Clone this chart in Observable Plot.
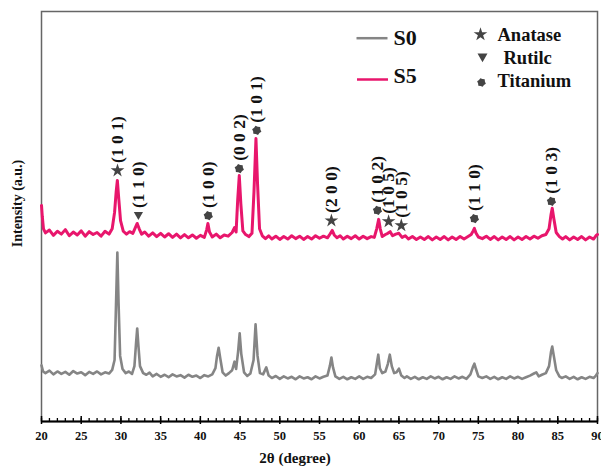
<!DOCTYPE html>
<html><head><meta charset="utf-8">
<script src="https://cdn.jsdelivr.net/npm/d3@7"></script>
<script src="https://cdn.jsdelivr.net/npm/@observablehq/plot@0.6"></script>
<style>html,body{margin:0;padding:0;background:#fff}</style>
</head><body><div id="chart"></div>
<script>
// XRD pattern S0 (2θ, intensity a.u.)
const s0Pattern = [[20.0,137],[20.2,122],[20.5,118],[21.0,124],[21.5,115],[22.0,122],[22.5,116],[23.0,121],[23.5,114],[24.0,123],[24.5,117],[25.0,120],[25.5,113],[26.0,121],[26.5,116],[27.0,122],[27.5,115],[28.0,120],[28.5,117],[28.9,126],[29.2,150],[29.4,300],[29.55,412],[29.7,290],[29.9,160],[30.2,128],[30.6,118],[31.0,122],[31.4,116],[31.7,135],[31.9,190],[32.05,227],[32.2,185],[32.4,135],[32.8,118],[33.2,114],[33.6,119],[34.0,110],[34.5,116],[35.0,109],[35.5,114],[36.0,108],[36.5,115],[37.0,110],[37.5,113],[38.0,107],[38.5,114],[39.0,109],[39.5,112],[40.0,106],[40.5,113],[41.0,110],[41.5,115],[41.9,130],[42.1,160],[42.3,180],[42.5,155],[42.8,120],[43.2,112],[43.6,118],[44.0,125],[44.3,146],[44.5,128],[44.75,170],[44.95,215],[45.15,165],[45.5,120],[45.9,111],[46.3,117],[46.7,150],[46.95,237],[47.2,160],[47.5,118],[47.9,115],[48.3,132],[48.6,112],[49.0,106],[49.5,111],[50.0,104],[50.5,110],[51.0,105],[51.5,109],[52.0,103],[52.5,110],[53.0,105],[53.5,108],[54.0,103],[54.5,110],[55.0,105],[55.5,109],[56.0,112],[56.3,135],[56.5,156],[56.7,132],[57.0,110],[57.5,104],[58.0,109],[58.5,103],[59.0,108],[59.5,104],[60.0,110],[60.5,104],[61.0,109],[61.5,106],[62.0,115],[62.25,145],[62.4,163],[62.6,130],[62.9,118],[63.3,122],[63.6,140],[63.85,163],[64.1,135],[64.4,118],[64.7,120],[65.0,129],[65.3,112],[65.7,106],[66.0,110],[66.5,104],[67.0,109],[67.5,103],[68.0,108],[68.5,104],[69.0,110],[69.5,105],[70.0,109],[70.5,103],[71.0,108],[71.5,104],[72.0,110],[72.5,105],[73.0,109],[73.5,104],[74.0,115],[74.3,132],[74.5,141],[74.7,128],[75.0,110],[75.5,106],[76.0,110],[76.5,104],[77.0,109],[77.5,103],[78.0,108],[78.5,104],[79.0,110],[79.5,105],[80.0,109],[80.5,104],[81.0,108],[81.5,112],[82.0,117],[82.3,120],[82.6,110],[83.0,114],[83.5,118],[83.9,135],[84.15,170],[84.3,183],[84.5,160],[84.8,125],[85.2,110],[85.5,106],[86.0,110],[86.5,104],[87.0,109],[87.5,103],[88.0,108],[88.5,104],[89.0,109],[89.5,106],[89.8,112],[90.0,118]];

// XRD pattern S5 (2θ, intensity a.u., stacked)
const s5Pattern = [[20.0,527],[20.1,500],[20.25,470],[20.5,460],[21.0,467],[21.5,454],[22.0,464],[22.5,457],[23.0,468],[23.5,453],[24.0,462],[24.5,455],[25.0,465],[25.5,452],[26.0,463],[26.5,456],[27.0,461],[27.5,452],[28.0,464],[28.5,457],[28.9,470],[29.2,510],[29.4,560],[29.55,588],[29.7,550],[29.95,490],[30.3,464],[30.7,457],[31.1,463],[31.5,459],[31.8,472],[32.05,483],[32.3,470],[32.6,457],[33.0,462],[33.5,452],[34.0,460],[34.5,451],[35.0,459],[35.5,450],[36.0,458],[36.5,449],[37.0,457],[37.5,448],[38.0,456],[38.5,448],[39.0,455],[39.5,447],[40.0,454],[40.5,449],[40.8,468],[40.95,483],[41.15,462],[41.5,450],[42.0,457],[42.5,448],[43.0,455],[43.5,452],[44.0,461],[44.3,473],[44.5,462],[44.7,540],[44.9,600],[45.1,530],[45.35,465],[45.7,456],[46.1,451],[46.5,459],[46.75,560],[47.0,690],[47.2,580],[47.45,470],[47.8,453],[48.2,446],[48.6,453],[49.0,445],[49.5,452],[50.0,444],[50.5,451],[51.0,445],[51.5,453],[52.0,446],[52.5,452],[53.0,444],[53.5,451],[54.0,445],[54.5,453],[55.0,447],[55.5,452],[56.0,448],[56.35,458],[56.6,466],[56.85,455],[57.2,448],[57.6,453],[58.0,445],[58.5,452],[59.0,446],[59.5,453],[60.0,445],[60.5,452],[61.0,446],[61.5,451],[61.9,449],[62.2,470],[62.45,493],[62.65,470],[62.9,451],[63.3,456],[63.6,459],[63.9,463],[64.2,453],[64.6,457],[65.0,459],[65.4,449],[65.8,453],[66.2,445],[66.7,451],[67.2,444],[67.7,450],[68.2,444],[68.7,451],[69.2,443],[69.7,450],[70.2,444],[70.7,451],[71.2,443],[71.7,450],[72.2,444],[72.7,451],[73.2,445],[73.7,451],[74.1,456],[74.35,465],[74.5,471],[74.7,460],[75.0,450],[75.5,446],[76.0,452],[76.5,444],[77.0,451],[77.5,443],[78.0,450],[78.5,444],[79.0,451],[79.5,443],[80.0,450],[80.5,444],[81.0,451],[81.5,445],[82.0,452],[82.5,447],[83.0,453],[83.5,456],[83.9,470],[84.15,505],[84.3,520],[84.5,495],[84.8,461],[85.2,451],[85.6,445],[86.0,451],[86.5,443],[87.0,450],[87.5,444],[88.0,451],[88.5,443],[89.0,450],[89.5,445],[89.8,453],[90.0,456]];

// Peak annotations
const peakAngle = [29.57, 32.2, 41.0, 44.9, 47.1, 56.5, 62.3, 63.7, 65.3, 74.5, 84.2];
const peakLevel = [612, 502, 502, 617, 710, 490, 515, 488, 478, 495, 537];
const peakPhase = ["Anatase","Rutilc","Titanium","Titanium","Titanium","Anatase","Titanium","Anatase","Anatase","Titanium","Titanium"];
const peakHkl = ["(1 0 1)","(1 1 0)","(1 0 0)","(0 0 2)","(1 0 1)","(2 0 0)","(1 0 2)","(1 0 5)","(1 0 5)","(1 1 0)","(1 0 3)"];

// Legend / axis text
const seriesNames = ["S0", "S5"];
const phaseNames = ["Anatase", "Rutilc", "Titanium"];
const majorTicks = [20,25,30,35,40,45,50,55,60,65,70,75,80,85,90];
const minorTicks = d3.range(20, 91, 1);
const xTitle = "2θ (degree)";
const yTitle = "Intensity (a.u.)";

const peaks = peakAngle.map((a, i) => ({angle: a, level: peakLevel[i], phase: peakPhase[i], hkl: peakHkl[i]}));

const FONT = "Liberation Serif, Times New Roman, serif";
const SYM = "#444";
const GRAY = "#858585";
const PINK = "#e8166c";

const triDown = {draw(ctx, size) { const r = Math.sqrt(size / Math.PI);
  ctx.moveTo(-r, -0.8 * r); ctx.lineTo(r, -0.8 * r); ctx.lineTo(0, 0.95 * r); ctx.closePath(); }};
const cog = {draw(ctx, size) { const r = Math.sqrt(size / Math.PI);
  for (let i = 0; i < 12; i++) { const a = Math.PI * i / 6 + Math.PI / 12; const rr = i % 2 ? r * 0.78 : r;
    const px = rr * Math.cos(a), py = rr * Math.sin(a); if (i) ctx.lineTo(px, py); else ctx.moveTo(px, py); }
  ctx.closePath(); }};
const dash = {draw(ctx) { ctx.moveTo(-15.5, 0); ctx.lineTo(15.5, 0); }};
const phaseSymbol = {Anatase: "star", Rutilc: triDown, Titanium: cog};
const phaseR = {Anatase: 4.3, Rutilc: 4.6, Titanium: 4.8};

const marks = [
  Plot.frame({stroke: "#666", strokeWidth: 1.5}),
  Plot.ruleY([0], {stroke: "#000", strokeWidth: 2}),
  Plot.tickX(minorTicks, {x: d => d, insetTop: 407, stroke: "#000", strokeWidth: 1.3}),
  Plot.tickX(majorTicks, {x: d => d, insetTop: 405, insetBottom: -3, stroke: "#000", strokeWidth: 1.5}),
  Plot.axisX(majorTicks, {tickSize: 0, tickPadding: 10, fontSize: 12.5, fontWeight: "bold", fill: "#111", label: null}),
  Plot.line(s0Pattern, {x: d => d[0], y: d => d[1], stroke: GRAY, strokeWidth: 2.6, strokeLinejoin: "round"}),
  Plot.line(s5Pattern, {x: d => d[0], y: d => d[1], stroke: PINK, strokeWidth: 3, strokeLinejoin: "round"}),
  ...phaseNames.map(p => Plot.dot(peaks.filter(d => d.phase === p), {x: "angle", y: "level", symbol: phaseSymbol[p], r: phaseR[p], fill: SYM, stroke: "none"})),
  Plot.text(peaks, {x: "angle", y: "level", text: "hkl", rotate: -90, dy: -31, textAnchor: "middle", lineAnchor: "middle", fontSize: 17.5, fontWeight: "bold", fill: "#111"}),
  // legend
  Plot.dot([seriesNames[0]], {frameAnchor: "top-left", dx: 330.5, dy: 26.7, symbol: dash, stroke: GRAY, strokeWidth: 2.5}),
  Plot.dot([seriesNames[1]], {frameAnchor: "top-left", dx: 331, dy: 68, symbol: dash, stroke: PINK, strokeWidth: 2.5}),
  Plot.text([seriesNames[0]], {frameAnchor: "top-left", dx: 352, dy: 26, textAnchor: "start", lineAnchor: "middle", fontSize: 22, fontWeight: "bold", fill: "#111"}),
  Plot.text([seriesNames[1]], {frameAnchor: "top-left", dx: 352, dy: 64, textAnchor: "start", lineAnchor: "middle", fontSize: 22, fontWeight: "bold", fill: "#111"}),
  Plot.dot([phaseNames[0]], {frameAnchor: "top-left", dx: 439, dy: 23, symbol: phaseSymbol.Anatase, r: 4.3, fill: SYM}),
  Plot.dot([phaseNames[1]], {frameAnchor: "top-left", dx: 441, dy: 46, symbol: phaseSymbol.Rutilc, r: 5, fill: SYM}),
  Plot.dot([phaseNames[2]], {frameAnchor: "top-left", dx: 440, dy: 71, symbol: phaseSymbol.Titanium, r: 4.5, fill: SYM}),
  Plot.text([phaseNames[0]], {frameAnchor: "top-left", dx: 456, dy: 23.5, textAnchor: "start", lineAnchor: "middle", fontSize: 18.5, fontWeight: "bold", fill: "#111"}),
  Plot.text([phaseNames[1]], {frameAnchor: "top-left", dx: 462, dy: 46.5, textAnchor: "start", lineAnchor: "middle", fontSize: 18.5, fontWeight: "bold", fill: "#111"}),
  Plot.text([phaseNames[2]], {frameAnchor: "top-left", dx: 456, dy: 70, textAnchor: "start", lineAnchor: "middle", fontSize: 18.5, fontWeight: "bold", fill: "#111"}),
  // axis titles
  Plot.text([xTitle], {frameAnchor: "bottom-left", dx: 253.5, dy: 36.5, textAnchor: "middle", lineAnchor: "middle", fontSize: 15, fontWeight: "bold", fill: "#111"}),
  Plot.text([yTitle], {frameAnchor: "top-left", dx: -23.5, dy: 192, rotate: -90, textAnchor: "middle", lineAnchor: "middle", fontSize: 14, fontWeight: "bold", fill: "#111"})
];

const chart = Plot.plot({
  width: 601, height: 469,
  marginLeft: 41, marginRight: 4, marginTop: 11, marginBottom: 48,
  style: {fontFamily: FONT, background: "#fff", overflow: "visible"},
  x: {domain: [20, 90], axis: null},
  y: {domain: [0, 1000], axis: null},
  marks
});
document.getElementById("chart").appendChild(chart);
</script>
</body></html>
